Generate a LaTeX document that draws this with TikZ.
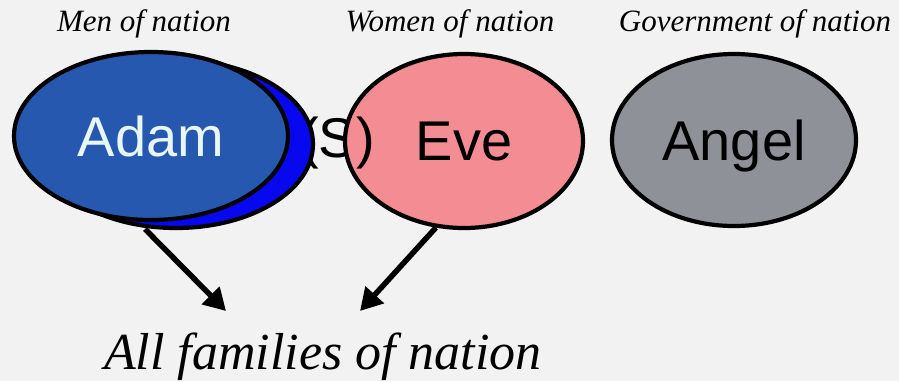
\documentclass[tikz,border=0pt]{standalone}
\usepackage{fontspec}
\setmainfont{Liberation Serif}
\newfontfamily\arialfont{Liberation Sans}
\usetikzlibrary{positioning,arrows.meta,shapes.geometric}
\definecolor{bgray}{RGB}{242,242,242}
\definecolor{adamblue}{RGB}{38,88,176}
\definecolor{shadeblue}{RGB}{8,8,240}
\definecolor{evepink}{RGB}{243,141,147}
\definecolor{angelgray}{RGB}{142,145,152}
\definecolor{adamtext}{RGB}{232,246,246}
\tikzset{
  oval/.style={ellipse,draw=black,line width=4.2pt,inner sep=0pt,text depth=0pt,font=\arialfont\fontsize{56}{60}\selectfont},
  toplab/.style={font=\itshape\fontsize{31}{34}\selectfont},
  famarrow/.style={line width=5.5pt,-{Triangle[length=22pt,width=24pt]}},
  every picture/.style={x=1pt,y=-1pt}
}
\begin{document}
\begin{tikzpicture}
      \useasboundingbox (0,0) rectangle (899,381); \fill[bgray] (0,0) rectangle (899,381);
      \node[font=\arialfont\fontsize{56}{60}\selectfont,anchor=base west,inner sep=0pt] (sopen) at (300,157) {(S};
      \node[oval,fill=evepink,minimum width=238pt,minimum height=174pt] (eve) at (464,141) {Eve};
      \node[font=\arialfont\fontsize{56}{60}\selectfont,anchor=base west,inner sep=0pt] (sclose) at (sopen.base east) {)};
      \node[oval,fill=shadeblue,minimum width=274pt,minimum height=168pt] (shade) at (176,144) {};
      \node[oval,fill=adamblue,text=adamtext,minimum width=274pt,minimum height=168pt] (adam) at (151,136) {Adam};
      \node[oval,fill=angelgray,minimum width=244pt,minimum height=172pt] (angel) at (734,140) {Angel};
      \node[toplab] (men) at (144,24) {Men of nation}; \node[toplab] (women) at (450,24) {Women of nation}; \node[toplab] (gov) at (755,24) {Government of nation};
      \node[font=\itshape\fontsize{52}{56}\selectfont,anchor=base] (fam) at (323,369) {All families of nation};
      \coordinate (famL) at (226,311); \coordinate (famR) at (360,311);
      \draw[famarrow] ([yshift=-7pt]adam.-94) -- (famL); \draw[famarrow] (eve.-108) -- (famR);
    \end{tikzpicture}
\end{document}
